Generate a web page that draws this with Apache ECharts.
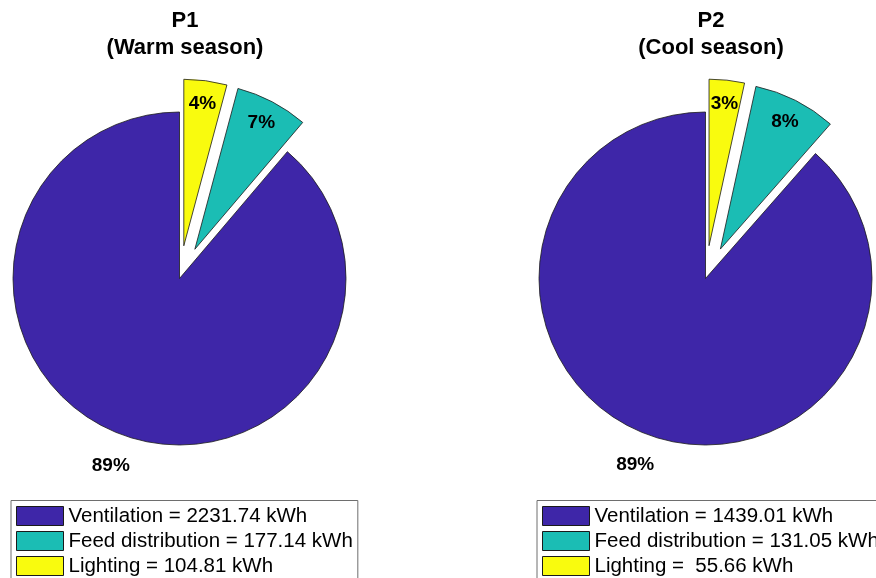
<!DOCTYPE html>
<html>
<head>
<meta charset="utf-8">
<script src="https://cdn.jsdelivr.net/npm/echarts@6/dist/echarts.min.js"></script>
<style>html,body{margin:0;padding:0;background:#fff}#c{width:876px;height:578px}</style>
</head>
<body>
<div id="c"></div>
<script>
const categories = ['Ventilation', 'Feed distribution', 'Lighting'];
const p1Values = [2231.74, 177.14, 104.81];
const p2Values = [1439.01, 131.05, 55.66];
const titles = ['P1\n(Warm season)', 'P2\n(Cool season)'];
const explodedItems = ['Feed distribution', 'Lighting'];

const colors = ['#3e26a8', '#1bbdb4', '#f9fb0e'];
const FONT = "'Liberation Sans', Arial, Helvetica, sans-serif";
const R = 166.5;

const pies = [
  { values: p1Values, center: [179.5, 278.5], titleX: 185, legendX: 11 },
  { values: p2Values, center: [705.5, 278.5], titleX: 711, legendX: 537 }
];

function legendName(cat, v) {
  return cat + ' = ' + v.toFixed(2).padStart(6, ' ') + ' kWh';
}
const pct = p => Math.round(p.percent) + '%';

const series = [];
const legends = [];
const titleComps = [];

pies.forEach((pie, k) => {
  const names = categories.map((c, i) => legendName(c, pie.values[i]));
  const mk = (showFn, selFn, colorFn) => names.map((n, i) => ({
    name: n,
    value: pie.values[i],
    selected: selFn(categories[i]),
    itemStyle: colorFn(i),
    label: { show: showFn(categories[i]) }
  }));
  series.push({
    type: 'pie',
    center: pie.center,
    radius: [0, R],
    startAngle: 90,
    clockwise: false,
    selectedMode: 'multiple',
    selectedOffset: 33,
    silent: true,
    avoidLabelOverlap: false,
    label: { show: false },
    labelLine: { show: false },
    data: mk(() => false, c => explodedItems.includes(c), i => ({ color: colors[i], borderColor: '#1a1a1a', borderWidth: 0.8 }))
  });
  series.push({
    type: 'pie',
    center: pie.center,
    radius: [0, 280],
    startAngle: 90,
    clockwise: false,
    selectedMode: 'multiple',
    selectedOffset: 33,
    silent: true,
    avoidLabelOverlap: false,
    label: { position: 'inside', formatter: pct, fontFamily: FONT, fontWeight: 'bold', fontSize: 19, color: '#000' },
    labelLine: { show: false },
    data: mk(c => explodedItems.includes(c), c => explodedItems.includes(c), () => ({ color: 'rgba(0,0,0,0)', borderWidth: 0 }))
  });
  series.push({
    type: 'pie',
    center: pie.center,
    radius: [0, 392],
    startAngle: 90,
    clockwise: false,
    silent: true,
    avoidLabelOverlap: false,
    label: { position: 'inside', formatter: pct, fontFamily: FONT, fontWeight: 'bold', fontSize: 19, color: '#000' },
    labelLine: { show: false },
    data: mk(c => !explodedItems.includes(c), () => false, () => ({ color: 'rgba(0,0,0,0)', borderWidth: 0 }))
  });
  legends.push({
    data: names,
    orient: 'vertical',
    left: pie.legendX,
    top: 500.5,
    height: 120,
    padding: 5,
    itemGap: 4,
    itemWidth: 47,
    itemHeight: 19,
    icon: 'rect',
    selectedMode: false,
    borderColor: '#6e6e6e',
    borderWidth: 1,
    itemStyle: { borderColor: '#1a1a1a', borderWidth: 1 },
    textStyle: { fontFamily: FONT, fontSize: 20.5, color: '#000' }
  });
  titleComps.push({
    text: titles[k],
    left: pie.titleX,
    top: 7,
    textAlign: 'center',
    padding: 0,
    textStyle: { fontFamily: FONT, fontWeight: 'bold', fontSize: 22, lineHeight: 27, color: '#000' }
  });
});

const chart = echarts.init(document.getElementById('c'), null, { renderer: 'canvas' });
chart.setOption({
  animation: false,
  backgroundColor: '#fff',
  title: titleComps,
  legend: legends,
  series: series
});
</script>
</body>
</html>
